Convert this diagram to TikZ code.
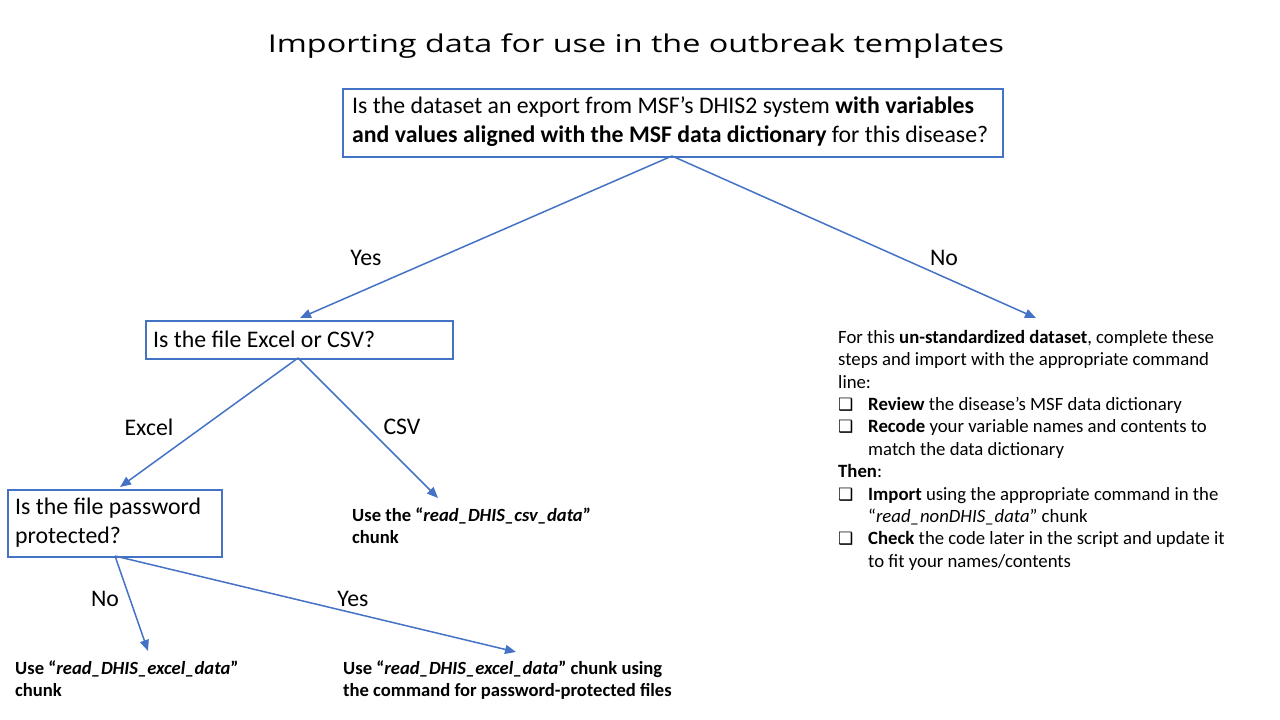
\documentclass[tikz,border=0pt]{standalone}
\usepackage{fontspec}
\setmainfont{Carlito}
\newfontfamily\titlefont[FakeStretch=1.32]{Open Sans}
\newfontfamily\symfont{DejaVu Sans}
\usetikzlibrary{arrows.meta}
\definecolor{msfblue}{HTML}{4472C4}
\newcommand{\cbx}{\makebox[30pt][l]{{\symfont\fontsize{17}{17}\selectfont ❑}}}
\begin{document}
\begin{tikzpicture}[x=1pt,y=1pt,
  qbox/.style={draw=msfblue,line width=2pt,inner sep=0pt,anchor=north west},
  conn/.style={draw=msfblue,line width=1.5pt,-{Triangle[length=11pt,width=9pt]}},
  lbl/.style={font=\fontsize{23.8}{28}\selectfont,inner sep=0pt},
  qtext/.style={anchor=west,inner sep=0pt,align=left,font=\fontsize{23.8}{29}\selectfont},
  res/.style={font=\fontsize{18.6}{22}\selectfont\bfseries,align=left,anchor=north west,inner sep=0pt}]
\useasboundingbox (0,0) rectangle (1280,720);
\node[inner sep=0pt,font=\titlefont\fontsize{24.5}{30}\selectfont] (title) at (636,674) {Importing data for use in the outbreak templates};
% boxes
\node[qbox,minimum width=660pt,minimum height=68pt] (q1) at (342,632) {};
\node[qtext] (q1t) at (352,598) {Is the dataset an export from MSF’s DHIS2 system \textbf{with variables}\\\textbf{and values aligned with the MSF data dictionary} for this disease?};
\node[qbox,minimum width=307pt,minimum height=38pt] (q2) at (145,400) {};
\node[qtext] (q2t) at (153,381) {Is the file Excel or CSV?};
\node[qbox,minimum width=214pt,minimum height=67pt] (q3) at (7,231) {};
\node[qtext] (q3t) at (15,197.5) {Is the file password\\protected?};
% targets
\coordinate (q1b) at (672,564);
\coordinate (q2b) at (298,362);
\coordinate (q3b) at (115,164);
\coordinate (tyes) at (300,402);
\coordinate (tno) at (1036,402);
\coordinate (texcel) at (120,233);
\coordinate (tcsv) at (438,222);
\coordinate (tno2) at (148,69);
\coordinate (tyes2) at (516,68);
\draw[conn] (q1b) -- (tyes);
\draw[conn] (q1b) -- (tno);
\draw[conn] (q2b) -- (texcel);
\draw[conn] (q2b) -- (tcsv);
\draw[conn] (q3b) -- (tno2);
\draw[conn] (q3b) -- (tyes2);
\node[lbl] (lyes) at (366,462) {Yes};
\node[lbl] (lno) at (944,462) {No};
\node[lbl] (lexcel) at (149,293) {Excel};
\node[lbl] (lcsv) at (402,293) {CSV};
\node[lbl] (lno2) at (105,121) {No};
\node[lbl] (lyes2) at (353,121) {Yes};
% results
\node[res] (rcsv) at (352,212) {Use the “\textit{read\_DHIS\_csv\_data}”\\chunk};
\node[res] (rexcel) at (15,59) {Use “\textit{read\_DHIS\_excel\_data}”\\chunk};
\node[res] (rpw) at (343,59) {Use “\textit{read\_DHIS\_excel\_data}” chunk using\\the command for password-protected files};
\node[anchor=north west,inner sep=0pt,align=left,font=\fontsize{18.75}{22.4}\selectfont] (rnon) at (838,390) {For this \textbf{un-standardized dataset}, complete these\\
steps and import with the appropriate command\\
line:\\
\cbx\textbf{Review} the disease’s MSF data dictionary\\
\cbx\textbf{Recode} your variable names and contents to\\
\hspace*{30pt}match the data dictionary\\
\textbf{Then}:\\
\cbx\textbf{Import} using the appropriate command in the\\
\hspace*{30pt}“\textit{read\_nonDHIS\_data}” chunk\\
\cbx\textbf{Check} the code later in the script and update it\\
\hspace*{30pt}to fit your names/contents};
\end{tikzpicture}
\end{document}
